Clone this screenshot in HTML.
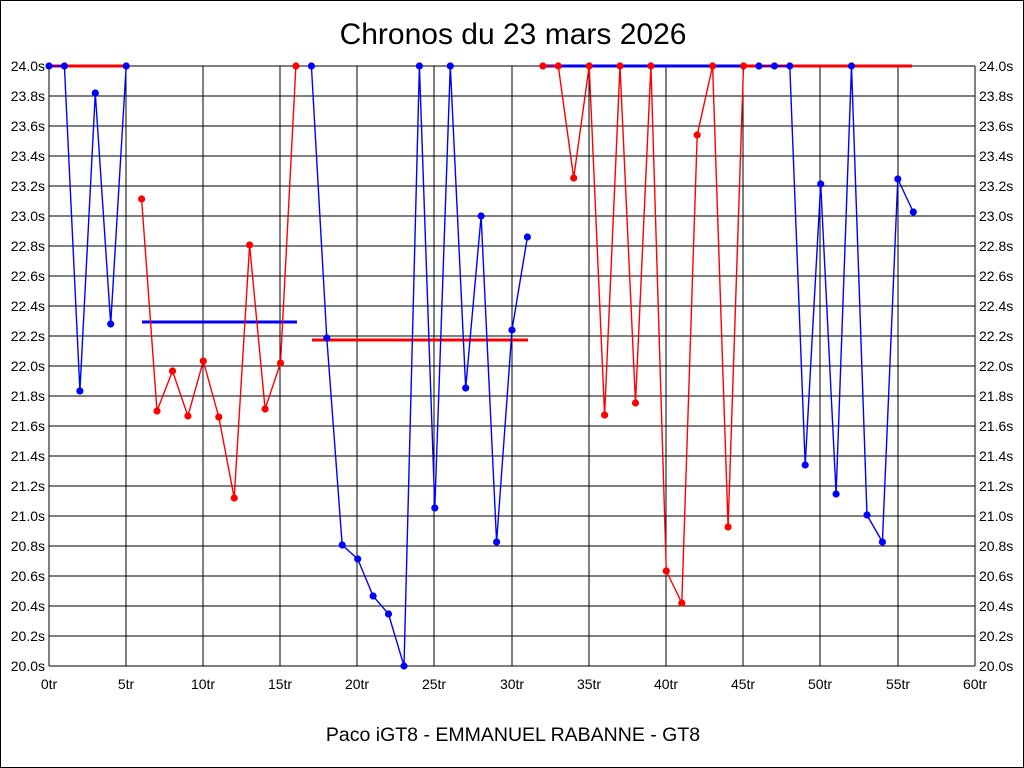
<!DOCTYPE html>
<html><head><meta charset="utf-8"><style>
html,body{margin:0;padding:0;background:#fff}
svg{display:block}
text{font-family:"Liberation Sans",sans-serif;fill:#000}
</style></head><body>
<svg width="1024" height="768" viewBox="0 0 1024 768" xmlns="http://www.w3.org/2000/svg">
<rect x="0.5" y="0.5" width="1023" height="767" fill="#fff" stroke="#000" stroke-width="1"/>
<text x="513" y="44" font-size="30" text-anchor="middle">Chronos du 23 mars 2026</text>
<text x="513" y="741" font-size="19.5" text-anchor="middle">Paco iGT8 - EMMANUEL RABANNE - GT8</text>
<g stroke="#000" stroke-width="1" shape-rendering="crispEdges">
<path d="M49 66H975M49 96H975M49 126H975M49 156H975M49 186H975M49 216H975M49 246H975M49 276H975M49 306H975M49 336H975M49 366H975M49 396H975M49 426H975M49 456H975M49 486H975M49 516H975M49 546H975M49 576H975M49 606H975M49 636H975M49 666H975"/>
<path d="M49 66V666M126 66V666M203 66V666M280 66V666M357 66V666M434 66V666M512 66V666M589 66V666M666 66V666M743 66V666M820 66V666M898 66V666M975 66V666"/>
</g>
<g font-size="14" text-anchor="end">
<text x="45" y="71">24.0s</text><text x="45" y="101">23.8s</text><text x="45" y="131">23.6s</text><text x="45" y="161">23.4s</text><text x="45" y="191">23.2s</text><text x="45" y="221">23.0s</text><text x="45" y="251">22.8s</text><text x="45" y="281">22.6s</text><text x="45" y="311">22.4s</text><text x="45" y="341">22.2s</text><text x="45" y="371">22.0s</text><text x="45" y="401">21.8s</text><text x="45" y="431">21.6s</text><text x="45" y="461">21.4s</text><text x="45" y="491">21.2s</text><text x="45" y="521">21.0s</text><text x="45" y="551">20.8s</text><text x="45" y="581">20.6s</text><text x="45" y="611">20.4s</text><text x="45" y="641">20.2s</text><text x="45" y="671">20.0s</text>
</g>
<g font-size="14">
<text x="979" y="71">24.0s</text><text x="979" y="101">23.8s</text><text x="979" y="131">23.6s</text><text x="979" y="161">23.4s</text><text x="979" y="191">23.2s</text><text x="979" y="221">23.0s</text><text x="979" y="251">22.8s</text><text x="979" y="281">22.6s</text><text x="979" y="311">22.4s</text><text x="979" y="341">22.2s</text><text x="979" y="371">22.0s</text><text x="979" y="401">21.8s</text><text x="979" y="431">21.6s</text><text x="979" y="461">21.4s</text><text x="979" y="491">21.2s</text><text x="979" y="521">21.0s</text><text x="979" y="551">20.8s</text><text x="979" y="581">20.6s</text><text x="979" y="611">20.4s</text><text x="979" y="641">20.2s</text><text x="979" y="671">20.0s</text>
</g>
<g font-size="14" text-anchor="middle">
<text x="49" y="689">0tr</text><text x="126" y="689">5tr</text><text x="203" y="689">10tr</text><text x="280" y="689">15tr</text><text x="357" y="689">20tr</text><text x="434" y="689">25tr</text><text x="512" y="689">30tr</text><text x="589" y="689">35tr</text><text x="666" y="689">40tr</text><text x="743" y="689">45tr</text><text x="820" y="689">50tr</text><text x="898" y="689">55tr</text><text x="975" y="689">60tr</text>
</g>
<g stroke-width="3">
<path d="M49 66H126" stroke="#f00"/>
<path d="M142 322H297" stroke="#00f"/>
<path d="M312 340H528" stroke="#f00"/>
<path d="M543 66H744" stroke="#00f"/>
<path d="M744 66H912" stroke="#f00"/>
</g>
<g fill="none" stroke-width="1.4">
<polyline stroke="#00f" points="49,66 64.4,66 79.9,391 95.3,93 110.7,324 126.2,66"/>
<polyline stroke="#f00" points="141.6,199 157,411 172.5,371 187.9,416 203.3,361 218.8,417 234.2,498 249.6,245 265.1,409 280.5,363 295.9,66"/>
<polyline stroke="#00f" points="311.4,66 326.8,338 342.2,545 357.7,559 373.1,596 388.5,614 404,666 419.4,66 434.8,508 450.3,66 465.7,388 481.1,216 496.6,542 512,330 527.4,237"/>
<polyline stroke="#f00" points="542.9,66 558.3,66 573.7,178 589.2,66 604.6,415 620,66 635.5,403 650.9,66 666.3,571 681.8,603 697.2,135 712.6,66 728.1,527 743.5,66"/>
<polyline stroke="#00f" points="758.9,66 774.4,66 789.8,66 805.2,465 820.7,184 836.1,494 851.5,66 867,515 882.4,542 897.8,179 913.3,212"/>
</g>
<g fill="#00f">
<circle cx="49" cy="66" r="3.6"/><circle cx="64.4" cy="66" r="3.6"/><circle cx="79.9" cy="391" r="3.6"/><circle cx="95.3" cy="93" r="3.6"/><circle cx="110.7" cy="324" r="3.6"/><circle cx="126.2" cy="66" r="3.6"/>
<circle cx="311.4" cy="66" r="3.6"/><circle cx="326.8" cy="338" r="3.6"/><circle cx="342.2" cy="545" r="3.6"/><circle cx="357.7" cy="559" r="3.6"/><circle cx="373.1" cy="596" r="3.6"/><circle cx="388.5" cy="614" r="3.6"/><circle cx="404" cy="666" r="3.6"/><circle cx="419.4" cy="66" r="3.6"/><circle cx="434.8" cy="508" r="3.6"/><circle cx="450.3" cy="66" r="3.6"/><circle cx="465.7" cy="388" r="3.6"/><circle cx="481.1" cy="216" r="3.6"/><circle cx="496.6" cy="542" r="3.6"/><circle cx="512" cy="330" r="3.6"/><circle cx="527.4" cy="237" r="3.6"/>
<circle cx="758.9" cy="66" r="3.6"/><circle cx="774.4" cy="66" r="3.6"/><circle cx="789.8" cy="66" r="3.6"/><circle cx="805.2" cy="465" r="3.6"/><circle cx="820.7" cy="184" r="3.6"/><circle cx="836.1" cy="494" r="3.6"/><circle cx="851.5" cy="66" r="3.6"/><circle cx="867" cy="515" r="3.6"/><circle cx="882.4" cy="542" r="3.6"/><circle cx="897.8" cy="179" r="3.6"/><circle cx="913.3" cy="212" r="3.6"/>
</g>
<g fill="#f00">
<circle cx="141.6" cy="199" r="3.6"/><circle cx="157" cy="411" r="3.6"/><circle cx="172.5" cy="371" r="3.6"/><circle cx="187.9" cy="416" r="3.6"/><circle cx="203.3" cy="361" r="3.6"/><circle cx="218.8" cy="417" r="3.6"/><circle cx="234.2" cy="498" r="3.6"/><circle cx="249.6" cy="245" r="3.6"/><circle cx="265.1" cy="409" r="3.6"/><circle cx="280.5" cy="363" r="3.6"/><circle cx="295.9" cy="66" r="3.6"/>
<circle cx="542.9" cy="66" r="3.6"/><circle cx="558.3" cy="66" r="3.6"/><circle cx="573.7" cy="178" r="3.6"/><circle cx="589.2" cy="66" r="3.6"/><circle cx="604.6" cy="415" r="3.6"/><circle cx="620" cy="66" r="3.6"/><circle cx="635.5" cy="403" r="3.6"/><circle cx="650.9" cy="66" r="3.6"/><circle cx="666.3" cy="571" r="3.6"/><circle cx="681.8" cy="603" r="3.6"/><circle cx="697.2" cy="135" r="3.6"/><circle cx="712.6" cy="66" r="3.6"/><circle cx="728.1" cy="527" r="3.6"/><circle cx="743.5" cy="66" r="3.6"/>
</g>
</svg>
</body></html>
